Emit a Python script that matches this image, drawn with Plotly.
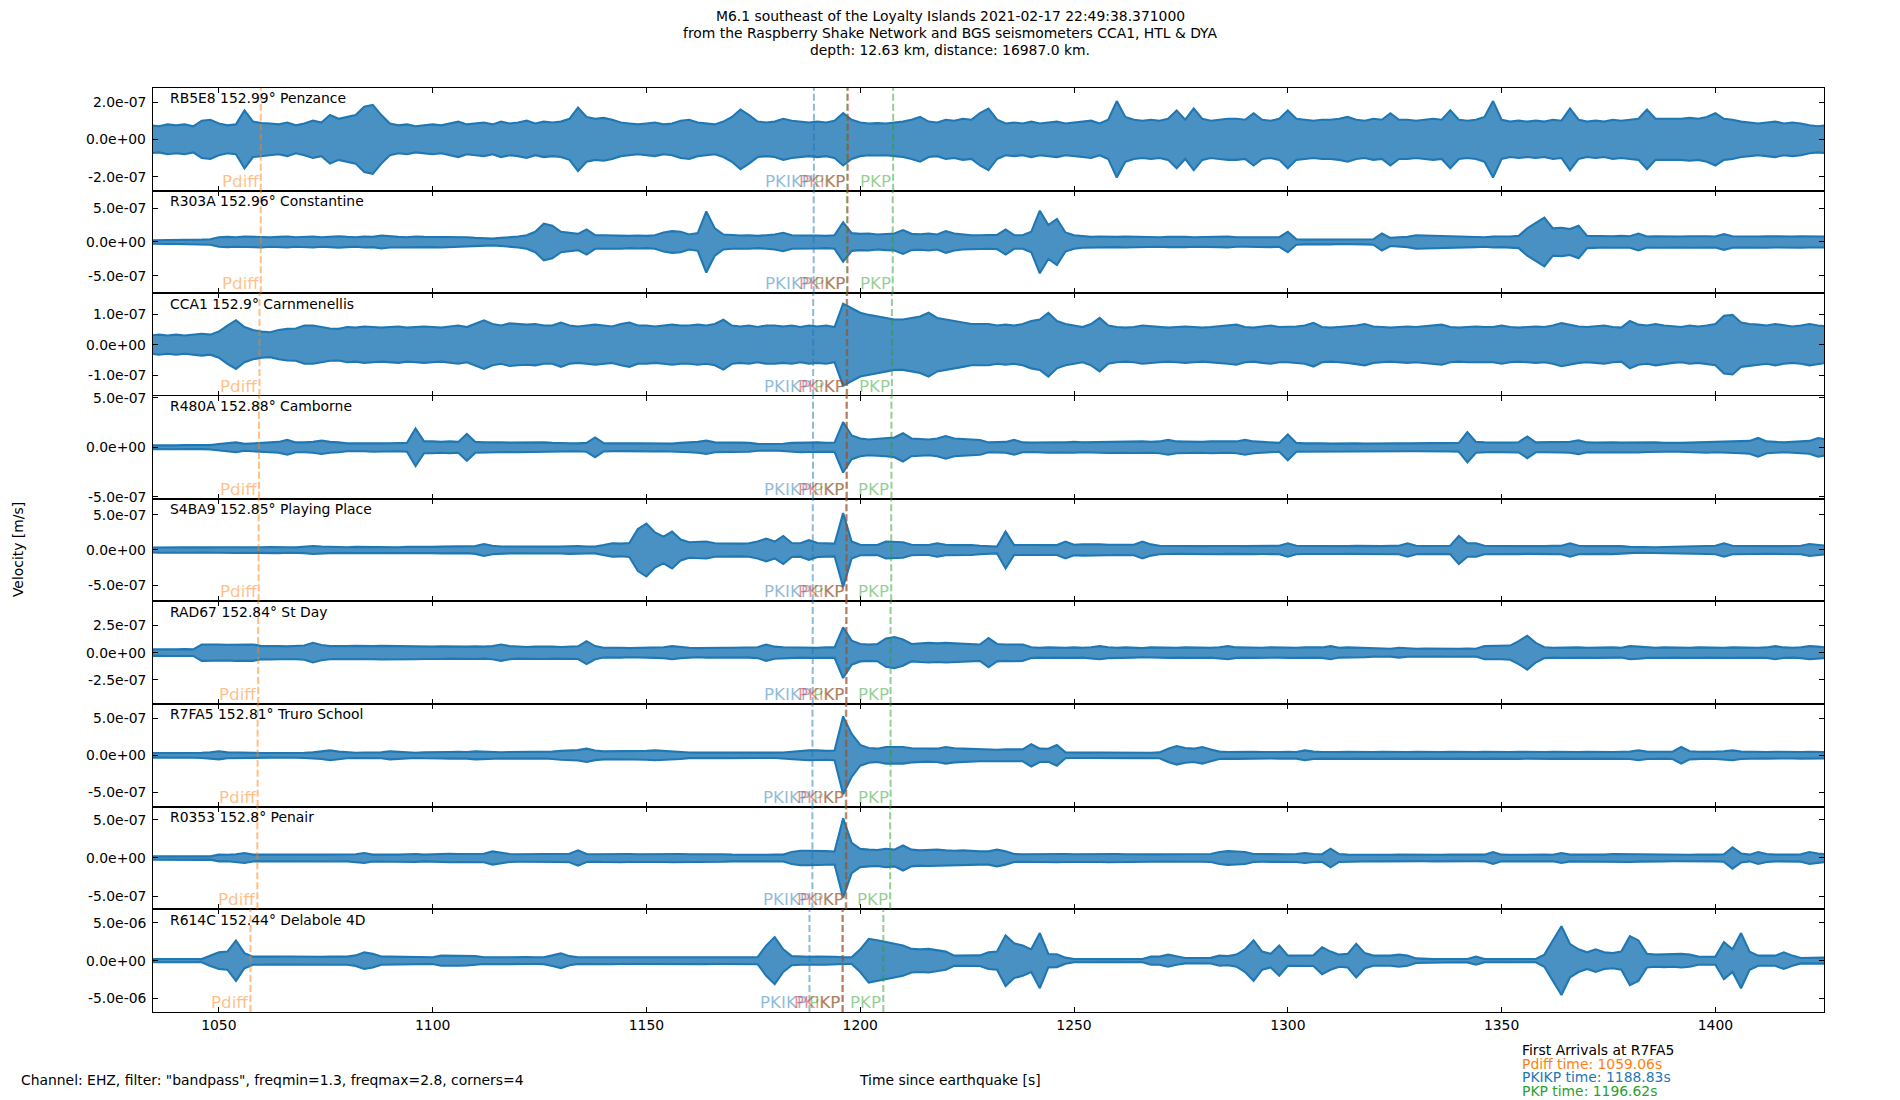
import numpy as np
import plotly.graph_objects as go
from plotly.subplots import make_subplots

# envelope samples, every 2 s starting at 1034 s, in nm/s
T_START = 1034.0
T_STEP = 2.0
NM = 1e-9

stations = ["RB5E8", "R303A", "CCA1", "R480A", "S4BA9", "RAD67", "R7FA5", "R0353", "R614C"]
distances = [152.99, 152.96, 152.9, 152.88, 152.85, 152.84, 152.81, 152.8, 152.44]
places = ["Penzance", "Constantine", "Carnmenellis", "Camborne", "Playing Place",
          "St Day", "Truro School", "Penair", "Delabole 4D"]

penzance = [
    75, 70, 80, 75, 80, 70, 100, 105,
    85, 75, 80, 155, 95, 87, 85, 80, 90, 75,
    85, 100, 90, 130, 110, 120, 130, 175, 185, 130,
    85, 75, 80, 70, 75, 80, 75, 85, 95, 80,
    85, 90, 80, 95, 85, 90, 100, 85, 95, 90,
    95, 110, 170, 120, 110, 115, 105, 90, 85, 80,
    85, 90, 80, 85, 100, 105, 90, 85, 80, 95,
    120, 160, 130, 95, 90, 95, 110, 100, 95, 90,
    95, 90, 100, 140, 105, 90, 85, 87, 85, 90,
    95, 105, 120, 95, 90, 105, 100, 110, 105, 140,
    165, 105, 85, 90, 85, 95, 85, 90, 95, 85,
    90, 95, 100, 85, 105, 205, 120, 105, 100, 105,
    100, 110, 155, 105, 165, 110, 100, 105, 110, 110,
    105, 140, 105, 100, 110, 155, 110, 105, 100, 105,
    105, 110, 120, 105, 100, 110, 105, 140, 105, 105,
    100, 105, 110, 105, 155, 105, 100, 105, 120, 205,
    105, 95, 100, 95, 100, 95, 105, 100, 165, 105,
    95, 100, 95, 105, 100, 105, 110, 160, 110, 110,
    110, 110, 115, 110, 120, 140, 110, 105, 95, 90,
    85, 90, 95, 85, 90, 85, 75, 70, 75,
]
constantine = [
    25, 25, 30, 30, 25, 30, 35, 40,
    70, 75, 70, 80, 75, 80, 70, 75, 80, 70,
    75, 80, 70, 75, 85, 75, 70, 80, 75, 95,
    80, 75, 70, 80, 75, 75, 80, 70, 75, 70,
    60, 55, 50, 60, 65, 80, 100, 150, 270, 240,
    150, 130, 120, 185, 100, 100, 95, 100, 90, 95,
    90, 100, 140, 160, 150, 110, 130, 450, 200, 110,
    100, 95, 100, 90, 100, 110, 135, 100, 95, 100,
    95, 90, 100, 290, 130, 120, 125, 110, 120, 125,
    175, 120, 115, 125, 110, 160, 125, 110, 100, 100,
    100, 105, 185, 100, 100, 150, 460, 250, 340, 140,
    100, 85, 75, 80, 75, 75, 80, 75, 70, 75,
    70, 75, 80, 75, 70, 75, 70, 75, 80, 70,
    70, 75, 70, 75, 70, 150, 40, 35, 35, 30,
    35, 30, 35, 30, 35, 40, 125, 60, 70, 75,
    100, 95, 100, 90, 85, 75, 80, 75, 70, 80,
    75, 80, 90, 200, 280, 360, 200, 210, 190, 240,
    90, 85, 80, 85, 90, 85, 125, 80, 85, 80,
    85, 80, 85, 90, 85, 80, 115, 85, 80, 85,
    80, 85, 80, 75, 80, 85, 80, 75, 80,
]
carnmenellis = [
    30, 33, 30, 33, 30, 33, 36, 33,
    43, 63, 80, 58, 48, 43, 41, 48, 52, 53,
    63, 63, 58, 53, 52, 58, 56, 60, 58, 56,
    58, 60, 56, 58, 60, 58, 56, 60, 63, 58,
    68, 80, 68, 63, 70, 68, 66, 68, 63, 63,
    73, 63, 60, 63, 66, 63, 60, 68, 73, 63,
    63, 60, 63, 66, 63, 63, 66, 63, 68, 82,
    63, 60, 63, 58, 63, 63, 60, 63, 58, 63,
    60, 63, 58, 135, 120, 105, 98, 93, 88, 83,
    83, 88, 93, 105, 88, 83, 78, 73, 68, 68,
    68, 63, 66, 63, 68, 78, 83, 105, 78, 68,
    63, 58, 68, 88, 63, 58, 56, 58, 63, 60,
    58, 56, 58, 60, 58, 56, 58, 60, 63, 66,
    58, 56, 60, 63, 58, 58, 60, 63, 72, 58,
    56, 58, 60, 63, 68, 60, 58, 56, 58, 60,
    58, 60, 63, 66, 58, 56, 58, 60, 58, 58,
    63, 58, 56, 58, 60, 58, 63, 71, 66, 60,
    58, 60, 63, 58, 56, 78, 66, 63, 68, 63,
    60, 58, 63, 60, 63, 68, 95, 98, 73, 68,
    66, 63, 68, 63, 60, 63, 68, 63, 60,
]
camborne = [
    20, 18, 20, 20, 22, 20, 18, 22,
    34, 40, 50, 35, 40, 45, 50, 55, 75, 50,
    50, 55, 68, 55, 50, 40, 42, 40, 45, 40,
    42, 40, 45, 190, 60, 60, 55, 60, 55, 136,
    55, 50, 52, 50, 48, 50, 48, 52, 50, 45,
    40, 42, 40, 45, 100, 42, 40, 38, 40, 42,
    40, 42, 40, 38, 45, 50, 55, 68, 50, 48,
    50, 48, 45, 35, 34, 32, 36, 45, 50, 48,
    50, 45, 48, 255, 120, 90, 80, 85, 90, 100,
    143, 90, 85, 80, 90, 115, 90, 85, 80, 75,
    50, 52, 55, 75, 50, 48, 50, 55, 52, 50,
    55, 50, 52, 55, 58, 60, 55, 58, 60, 55,
    60, 75, 60, 58, 55, 55, 60, 58, 55, 60,
    75, 60, 55, 50, 45, 130, 45, 40, 42, 40,
    38, 40, 42, 40, 38, 40, 38, 42, 40, 40,
    40, 42, 38, 40, 42, 45, 153, 55, 50, 48,
    50, 48, 52, 110, 50, 50, 48, 52, 55, 70,
    50, 48, 52, 50, 48, 50, 52, 48, 50, 45,
    42, 45, 48, 50, 55, 50, 52, 55, 60, 65,
    95, 60, 55, 50, 55, 60, 65, 95, 80,
]
playing_place = [
    35, 38, 35, 38, 40, 38, 35, 38,
    40, 38, 42, 40, 38, 40, 42, 45, 40, 38,
    45, 57, 50, 45, 42, 40, 45, 42, 40, 45,
    42, 40, 45, 42, 40, 45, 48, 50, 48, 45,
    55, 86, 60, 50, 48, 48, 50, 48, 45, 48,
    50, 55, 57, 50, 48, 70, 95, 90, 100, 300,
    376, 250, 190, 262, 150, 110, 120, 120, 95, 90,
    95, 90, 95, 120, 162, 120, 200, 100, 95, 140,
    100, 95, 90, 524, 120, 75, 70, 72, 120, 120,
    110, 75, 70, 72, 95, 75, 70, 72, 70, 60,
    50, 48, 262, 70, 72, 70, 75, 72, 70, 120,
    75, 80, 85, 80, 75, 72, 70, 75, 120, 80,
    60, 57, 55, 58, 57, 55, 57, 60, 55, 57,
    55, 58, 57, 55, 60, 95, 60, 57, 55, 58,
    55, 57, 55, 58, 55, 57, 55, 58, 60, 95,
    60, 57, 55, 58, 60, 200, 95, 95, 60, 57,
    55, 57, 58, 55, 57, 55, 58, 60, 95, 60,
    55, 57, 55, 58, 55, 45, 40, 38, 40, 42,
    45, 48, 50, 55, 57, 60, 95, 60, 57, 55,
    57, 55, 58, 55, 57, 60, 85, 70, 60,
]
st_day = [
    30, 28, 30, 30, 32, 30, 75, 78,
    75, 72, 75, 78, 75, 60, 62, 60, 58, 60,
    65, 90, 70, 60, 58, 60, 62, 58, 60, 62,
    60, 58, 62, 60, 58, 55, 58, 55, 52, 55,
    58, 55, 60, 75, 60, 55, 52, 55, 58, 55,
    52, 55, 58, 105, 60, 45, 48, 45, 42, 45,
    45, 48, 50, 60, 50, 45, 42, 45, 48, 45,
    45, 48, 45, 50, 75, 55, 50, 48, 45, 48,
    45, 50, 48, 232, 110, 80, 75, 78, 130, 143,
    120, 80, 85, 90, 85, 90, 85, 80, 78, 75,
    134, 80, 75, 78, 75, 50, 45, 48, 45, 45,
    48, 45, 50, 60, 50, 45, 48, 45, 42, 48,
    45, 48, 45, 48, 45, 48, 45, 50, 60, 48,
    45, 48, 45, 48, 45, 48, 45, 48, 45, 48,
    60, 45, 48, 45, 42, 36, 38, 36, 45, 38,
    36, 38, 36, 35, 38, 36, 38, 36, 60, 60,
    60, 65, 105, 155, 90, 50, 45, 48, 45, 48,
    45, 48, 45, 48, 45, 60, 55, 48, 45, 48,
    45, 48, 45, 48, 45, 48, 45, 48, 45, 48,
    45, 48, 60, 48, 45, 50, 60, 55, 48,
]
truro_school = [
    31, 30, 32, 31, 30, 32, 35, 40,
    54, 40, 35, 32, 35, 32, 31, 33, 35, 32,
    35, 40, 50, 67, 50, 40, 35, 38, 35, 40,
    54, 45, 38, 35, 40, 45, 42, 45, 48, 45,
    54, 48, 45, 42, 45, 45, 48, 45, 42, 50,
    60, 67, 70, 90, 65, 54, 55, 52, 54, 55,
    60, 67, 58, 54, 50, 38, 36, 35, 36, 38,
    36, 35, 36, 38, 36, 36, 38, 50, 60, 67,
    67, 60, 65, 526, 290, 140, 100, 90, 112, 112,
    112, 95, 90, 85, 90, 112, 95, 90, 85, 80,
    80, 75, 80, 78, 80, 150, 90, 88, 140, 40,
    36, 35, 36, 38, 36, 35, 36, 38, 36, 35,
    40, 90, 125, 100, 90, 112, 80, 50, 45, 48,
    45, 48, 45, 42, 45, 48, 45, 67, 50, 45,
    42, 45, 48, 45, 42, 45, 48, 45, 42, 45,
    48, 45, 42, 45, 48, 45, 42, 45, 48, 45,
    42, 45, 48, 45, 42, 45, 48, 45, 42, 45,
    48, 45, 42, 45, 48, 50, 67, 50, 48, 45,
    50, 112, 55, 48, 45, 50, 55, 67, 50, 45,
    42, 45, 48, 45, 42, 45, 48, 45, 42,
]
penair = [
    22, 20, 22, 22, 20, 22, 24, 22,
    44, 42, 50, 65, 45, 44, 42, 45, 44, 42,
    44, 45, 42, 44, 46, 44, 50, 65, 45, 44,
    42, 44, 50, 52, 44, 50, 52, 55, 52, 50,
    52, 55, 87, 70, 52, 50, 52, 55, 52, 50,
    52, 55, 100, 52, 50, 52, 50, 55, 52, 50,
    52, 50, 52, 55, 52, 50, 52, 55, 52, 50,
    44, 42, 44, 45, 42, 44, 45, 80, 96, 96,
    96, 90, 85, 522, 200, 120, 110, 105, 122, 110,
    165, 110, 100, 105, 110, 100, 95, 100, 90, 87,
    87, 110, 87, 52, 50, 52, 50, 52, 55, 52,
    50, 52, 50, 52, 55, 52, 50, 48, 52, 50,
    48, 50, 52, 50, 48, 50, 52, 78, 90, 85,
    78, 52, 50, 48, 52, 50, 52, 65, 52, 50,
    122, 52, 44, 42, 44, 42, 44, 42, 44, 42,
    44, 42, 44, 42, 44, 42, 44, 42, 44, 78,
    44, 42, 44, 42, 44, 44, 42, 65, 44, 42,
    44, 42, 44, 52, 50, 52, 48, 44, 42, 44,
    42, 44, 42, 44, 42, 44, 50, 140, 60, 44,
    78, 52, 44, 42, 44, 48, 78, 60, 50,
]
delabole = [
    220, 200, 220, 220, 200, 220, 210, 700,
    1100, 1200, 2680, 1000, 535, 535, 500, 535, 550, 520,
    535, 550, 520, 535, 550, 535, 700, 1100, 900, 550,
    535, 520, 535, 500, 480, 450, 670, 670, 670, 650,
    600, 450, 470, 450, 460, 450, 470, 450, 460, 700,
    980, 600, 450, 460, 450, 450, 470, 450, 460, 450,
    450, 470, 450, 460, 450, 470, 450, 460, 450, 470,
    450, 460, 450, 470, 2000, 3120, 1500, 600, 535, 520,
    535, 550, 520, 450, 450, 1500, 2900, 2700, 2500, 2200,
    2000, 1560, 1500, 1560, 1400, 1200, 670, 650, 670, 700,
    1100, 1200, 3350, 2300, 2000, 1500, 3650, 890, 850, 400,
    220, 200, 220, 210, 220, 200, 220, 210, 220, 535,
    535, 800, 550, 360, 350, 360, 370, 670, 600, 800,
    1500, 2680, 1200, 900, 2000, 670, 680, 670, 700, 1780,
    1200, 800, 900, 2230, 1000, 670, 650, 670, 800, 670,
    300, 220, 210, 220, 220, 220, 230, 535, 220, 210,
    220, 210, 220, 230, 220, 800, 2680, 4550, 2200, 1500,
    1100, 1500, 1100, 1000, 1200, 3250, 2680, 900, 800, 850,
    800, 900, 800, 535, 520, 535, 2450, 1500, 3650, 1200,
    670, 700, 670, 1100, 670, 360, 350, 360, 400,
]
envelopes = [penzance, constantine, carnmenellis, camborne, playing_place,
             st_day, truro_school, penair, delabole]

# y axis: half-range and tick step per panel (m/s)
y_limits = [2.75e-7, 7.55e-7, 1.69e-7, 5.2e-7, 7.3e-7, 4.7e-7, 6.93e-7, 6.75e-7, 6.8e-6]
y_ticks = [2e-7, 5e-7, 1e-7, 5e-7, 5e-7, 2.5e-7, 5e-7, 5e-7, 5e-6]

# predicted arrivals (s since origin) per station
pdiff_times = [1059.8, 1059.8, 1059.5, 1059.4, 1059.3, 1059.2, 1059.06, 1059.0, 1057.4]
pkikp_times = [1189.17, 1189.12, 1189.0, 1188.96, 1188.9, 1188.89, 1188.83, 1188.81, 1188.13]
pkp_times = [1196.95, 1196.9, 1196.8, 1196.75, 1196.7, 1196.68, 1196.62, 1196.6, 1195.8]
pkikp_inner_times = [1197.1, 1197.05, 1196.95, 1196.9, 1196.85, 1196.83, 1196.77, 1196.75, 1195.95]
pkp_late_times = [1207.7, 1207.6, 1207.4, 1207.3, 1207.25, 1207.1, 1207.1, 1207.0, 1205.4]

x_tick_vals = [1050, 1100, 1150, 1200, 1250, 1300, 1350, 1400]
X_RANGE = [1034.6, 1425.4]
REF_STATION = "R7FA5"

title_lines = [
    "M6.1 southeast of the Loyalty Islands 2021-02-17 22:49:38.371000",
    "from the Raspberry Shake Network and BGS seismometers CCA1, HTL & DYA",
    "depth: 12.63 km, distance: 16987.0 km.",
]
footer = 'Channel: EHZ, filter: "bandpass", freqmin=1.3, freqmax=2.8, corners=4'

# styling
FONT = "DejaVu Sans"
TRACE_BLUE = "#1f77b4"
ORANGE = "#ff7f0e"
BLUE = "#1f77b4"
GREEN = "#2ca02c"
RED = "#d62728"


def faded(hex_color, alpha=0.5):
    h = hex_color.lstrip("#")
    r, g, b = (int(h[i:i + 2], 16) for i in (0, 2, 4))
    return f"rgba({r},{g},{b},{alpha})"


# pixel frame of the plotting area in the 1900x1100 page
W, H = 1900, 1100
LEFT, RIGHT, TOP, BOTTOM = 152.7, 1824.3, 88.3, 1012.3
PLOT_W = RIGHT - LEFT
PLOT_H = BOTTOM - TOP


def paper_x(px):
    return (px - LEFT) / PLOT_W


def paper_y(py):
    return (BOTTOM - py) / PLOT_H


n = len(stations)
fig = make_subplots(rows=n, cols=1, shared_xaxes=True, vertical_spacing=0)

shapes = []
annotations = []

for i, env in enumerate(envelopes):
    row = i + 1
    sfx = "" if i == 0 else str(row)
    amp = np.asarray(env, dtype=float) * NM
    t = T_START + T_STEP * np.arange(len(amp))
    # the trace is drawn as its envelope band, outlined with the 1.5pt trace line
    fig.add_trace(
        go.Scatter(
            x=np.concatenate([t, t[::-1]]),
            y=np.concatenate([amp, -amp[::-1]]),
            mode="lines",
            fill="toself",
            line=dict(color=TRACE_BLUE, width=2.1),
            fillpattern=dict(
                shape="|",
                size=2,
                solidity=0.5,
                fgcolor=TRACE_BLUE,
                bgcolor="rgba(31,119,180,0.75)",
            ),
            hoverinfo="skip",
            showlegend=False,
        ),
        row=row,
        col=1,
    )

    lim, step = y_limits[i], y_ticks[i]
    vals = [step, 0.0, -step]
    fig.update_yaxes(range=[-lim, lim], tickvals=vals, row=row, col=1)
    # tick labels written next to the frame, matplotlib style
    for v in vals:
        annotations.append(dict(
            text=f"{v:.1e}", x=paper_x(147.5), xref="paper", y=v, yref=f"y{sfx}",
            xanchor="right", yanchor="middle", showarrow=False,
            font=dict(family=FONT, size=13.9, color="black"),
        ))

phases = [
    ("Pdiff", pdiff_times, ORANGE),
    ("PKIKP", pkikp_times, BLUE),
    ("PKP", pkp_times, GREEN),
    ("PKiKP", pkikp_inner_times, RED),
    ("PKP", pkp_late_times, GREEN),
]

for i in range(n):
    sfx = "" if i == 0 else str(i + 1)
    xref, ydom = f"x{sfx}", f"y{sfx} domain"

    # station name at the top-left of each panel
    annotations.append(dict(
        text=f"{stations[i]} {distances[i]}° {places[i]}",
        x=0.009, xref=f"x{sfx} domain", y=0.9, yref=ydom,
        xanchor="left", yanchor="middle", showarrow=False,
        font=dict(family=FONT, size=13.9, color="black"),
    ))

    for name, times, color in phases:
        t_arr = times[i]
        shapes.append(dict(
            type="line", x0=t_arr, x1=t_arr, xref=xref, y0=0, y1=1, yref=ydom,
            line=dict(color=faded(color), width=2, dash="7px,3px"),
        ))
        annotations.append(dict(
            text=name, x=t_arr, xref=xref, y=0, yref=ydom,
            xanchor="right", yanchor="bottom", yshift=-2, showarrow=False,
            font=dict(family=FONT, size=16.7, color=faded(color)),
        ))

# figure-level texts
for k, line in enumerate(title_lines):
    annotations.append(dict(
        text=line, x=paper_x(950), y=paper_y(16.7 + 16.7 * k), xref="paper", yref="paper",
        xanchor="center", yanchor="middle", showarrow=False,
        font=dict(family=FONT, size=13.9, color="black"),
    ))

annotations.append(dict(
    text="Velocity [m/s]", textangle=-90, x=paper_x(17), y=paper_y(550),
    xref="paper", yref="paper", xanchor="center", yanchor="middle", showarrow=False,
    font=dict(family=FONT, size=13.9, color="black"),
))
annotations.append(dict(
    text="Time since earthquake [s]", x=paper_x(950), y=paper_y(1080.7),
    xref="paper", yref="paper", xanchor="center", yanchor="middle", showarrow=False,
    font=dict(family=FONT, size=13.9, color="black"),
))
annotations.append(dict(
    text=footer, x=paper_x(18.7), y=paper_y(1080.7),
    xref="paper", yref="paper", xanchor="left", yanchor="middle", showarrow=False,
    font=dict(family=FONT, size=13.9, color="black"),
))

ref = stations.index(REF_STATION)
arrival_lines = [
    (f"First Arrivals at {REF_STATION}", "black"),
    (f"Pdiff time: {pdiff_times[ref]:.2f}s", ORANGE),
    (f"PKIKP time: {pkikp_times[ref]:.2f}s", BLUE),
    (f"PKP time: {pkp_times[ref]:.2f}s", GREEN),
]
for k, (line, color) in enumerate(arrival_lines):
    annotations.append(dict(
        text=line, x=paper_x(1520), y=paper_y(1050.7 + 13.5 * k),
        xref="paper", yref="paper", xanchor="left", yanchor="middle", showarrow=False,
        font=dict(family=FONT, size=13.9, color=color),
    ))

axis_style = dict(
    ticks="inside",
    ticklen=5,
    tickwidth=1.1,
    tickcolor="black",
    showline=True,
    linewidth=1.1,
    linecolor="black",
    mirror="ticks",
    showgrid=False,
    zeroline=False,
)
fig.update_xaxes(
    range=X_RANGE,
    tickvals=x_tick_vals,
    tickfont=dict(family=FONT, size=13.9, color="black"),
    **axis_style,
)
fig.update_yaxes(showticklabels=False, **axis_style)

fig.update_layout(
    width=W,
    height=H,
    margin=dict(l=LEFT, r=W - RIGHT, t=TOP, b=H - BOTTOM),
    plot_bgcolor="white",
    paper_bgcolor="white",
    font=dict(family=FONT, size=13.9, color="black"),
    shapes=shapes,
    annotations=annotations,
    showlegend=False,
)

# drop the browser's default 8px body margin so the figure sits at the page origin
fig.write_html(
    "out.html",
    config={"displayModeBar": False},
    post_script="document.body.style.margin = '0';",
)
